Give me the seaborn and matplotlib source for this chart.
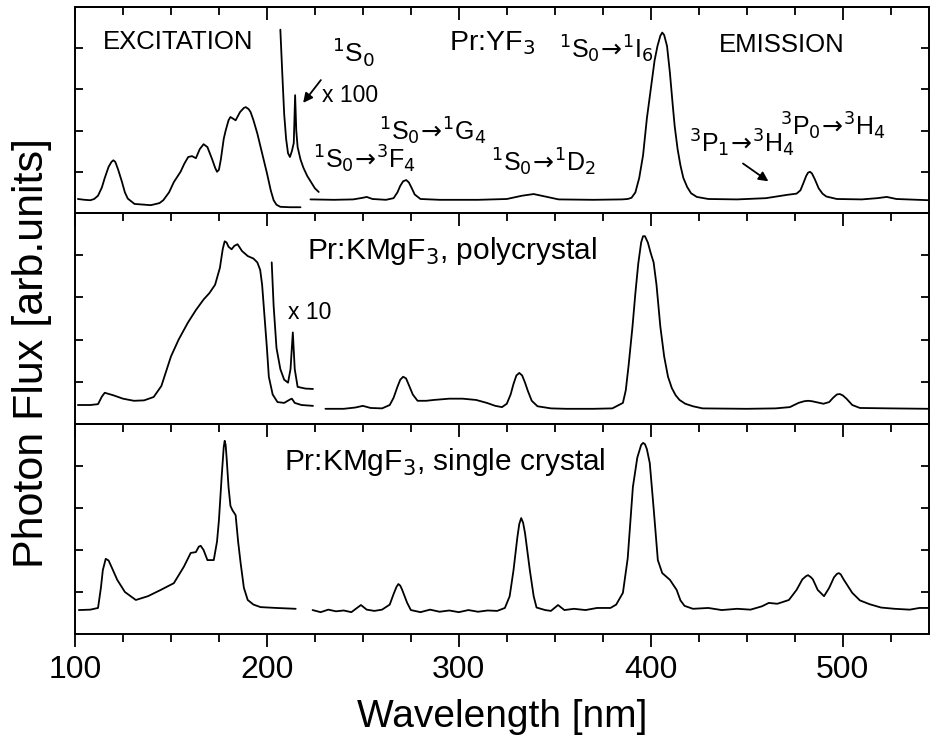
import matplotlib
matplotlib.use("Agg")
import matplotlib.pyplot as plt
import seaborn as sns
import numpy as np

# ---------------- data (wavelength nm, flux arb. units) ----------------
# Panel 1: Pr:YF3
yf3_exc_x = [101.5, 105, 108, 110, 112, 114, 115.5, 117.5, 119, 120, 121, 122.5, 124.5, 126, 127.5, 131,
             139.5, 144, 146, 149, 151.5, 155, 157, 159, 161, 163, 165, 167, 169, 171.5, 173, 174,
             175, 176, 177.5, 178.5, 180, 181, 183.7, 186, 188, 189, 190.5, 191.5, 193, 195, 197.5,
             200, 202, 203.5, 205, 207, 212, 217.5]
yf3_exc_y = [0.34, 0.32, 0.31, 0.34, 0.42, 0.62, 0.85, 1.12, 1.24, 1.28, 1.24, 1.05, 0.75, 0.5, 0.35,
             0.22, 0.19, 0.24, 0.31, 0.50, 0.75, 1.00, 1.20, 1.36, 1.38, 1.33, 1.55, 1.67, 1.60, 1.30,
             1.10, 1.00, 1.05, 1.30, 1.80, 2.00, 2.25, 2.33, 2.25, 2.45, 2.55, 2.57, 2.52, 2.45, 2.25,
             1.93, 1.45, 0.97, 0.55, 0.31, 0.20, 0.15, 0.14, 0.14]
yf3_x100_x = [207, 208, 209, 210, 211, 212, 213, 214, 214.7, 215.3, 216, 217.5, 219, 221, 223, 225, 227]
yf3_x100_y = [4.45, 3.4, 2.4, 1.8, 1.45, 1.36, 1.5, 1.7, 2.86, 2.0, 1.6, 1.3, 1.1, 0.9, 0.75, 0.6, 0.51]
yf3_em_x = [222.7, 235, 245, 250, 252, 255, 262, 266, 268, 269.5, 271, 272.6, 274, 275.5, 277, 280, 290,
            310, 325, 333, 339, 345, 352, 370, 385, 388, 390, 392, 394, 396, 398, 400, 402, 403.5,
            405, 406, 407, 408.5, 410, 411.5, 412.5, 414, 415.5, 417, 419, 421, 424, 430, 445, 460,
            471, 476, 478, 479.5, 481, 482, 483, 484, 485.5, 487.5, 489.5, 491.5, 497, 510, 518,
            523, 528, 545]
yf3_em_y = [0.33, 0.32, 0.33, 0.37, 0.39, 0.34, 0.32, 0.36, 0.50, 0.66, 0.77, 0.80, 0.74, 0.60, 0.45,
            0.34, 0.32, 0.32, 0.34, 0.42, 0.46, 0.40, 0.33, 0.32, 0.33, 0.34, 0.37, 0.50, 0.85, 1.40,
            2.30, 3.00, 3.70, 4.05, 4.30, 4.38, 4.32, 4.05, 3.40, 2.60, 2.10, 1.55, 1.15, 0.85, 0.63,
            0.48, 0.39, 0.34, 0.33, 0.36, 0.44, 0.47, 0.55, 0.72, 0.90, 0.98, 1.00, 0.96, 0.82, 0.60,
            0.47, 0.40, 0.34, 0.33, 0.36, 0.39, 0.34, 0.31]

# Panel 2: Pr:KMgF3 polycrystal
poly_exc_x = [101.5, 108, 112, 114, 115.5, 120, 125, 130.7, 136, 141, 145, 150, 154, 158.8, 163, 167,
              170, 173, 175.5, 177, 178, 179, 180, 181.6, 183, 184.7, 187, 190, 193, 195, 196.5, 197.5,
              198.5, 200, 201, 203, 205.5, 209, 212, 213, 214.5, 218, 224]
poly_exc_y = [0.45, 0.45, 0.47, 0.65, 0.74, 0.68, 0.60, 0.55, 0.56, 0.64, 0.90, 1.60, 2.00, 2.40, 2.70,
              2.95, 3.10, 3.30, 3.70, 4.15, 4.33, 4.30, 4.20, 4.14, 4.22, 4.26, 4.10, 3.98, 3.92, 3.83,
              3.65, 3.30, 2.70, 1.80, 1.12, 0.70, 0.52, 0.50, 0.58, 0.60, 0.50, 0.45, 0.43]
poly_x10_x = [202.5, 203.5, 205, 207, 209, 211, 212.3, 213.5, 214.5, 216, 220, 224]
poly_x10_y = [3.83, 2.8, 1.8, 1.3, 1.05, 0.98, 1.3, 2.17, 1.3, 0.88, 0.84, 0.83]
poly_em_x = [230.5, 240, 246, 250, 254, 260, 264, 266, 268, 269.5, 271, 272.5, 274, 276, 278.5, 283,
             287, 295, 302, 309, 314.6, 319, 322.5, 325, 327, 328.5, 330, 331.5, 333, 334.5, 336, 338,
             341, 348, 356, 370, 380, 385.5, 387, 388.5, 390.5, 392, 393.5, 395, 396, 397, 398.5, 400,
             401.5, 403, 405, 407, 409, 411, 413, 415, 418, 422, 427, 450, 465, 472.5, 477, 480, 482,
             484, 486, 490, 493, 495, 497, 498.5, 500, 502, 505, 509, 525, 545]
poly_em_y = [0.36, 0.36, 0.39, 0.43, 0.38, 0.37, 0.45, 0.62, 0.88, 1.05, 1.12, 1.08, 0.92, 0.70, 0.55,
             0.55, 0.57, 0.60, 0.60, 0.57, 0.50, 0.43, 0.40, 0.48, 0.70, 0.95, 1.15, 1.21, 1.15, 0.98,
             0.78, 0.55, 0.42, 0.37, 0.36, 0.36, 0.37, 0.50, 0.80, 1.40, 2.31, 3.10, 3.80, 4.30, 4.45,
             4.45, 4.30, 4.05, 3.83, 3.30, 2.31, 1.60, 1.12, 0.85, 0.68, 0.57, 0.48, 0.42, 0.37, 0.36,
             0.37, 0.40, 0.50, 0.54, 0.55, 0.54, 0.52, 0.48, 0.52, 0.62, 0.70, 0.71, 0.68, 0.60, 0.45,
             0.38, 0.37, 0.36]

# Panel 3: Pr:KMgF3 single crystal
sc_exc_x = [102, 108, 112, 113.5, 114.5, 116, 117.5, 119, 122, 126, 131.7, 138, 144.7, 151.5, 156.7,
            160.3, 163, 164.5, 165.5, 167, 169, 172.3, 174, 175, 176.5, 177.5, 178, 178.5, 179, 180,
            181, 182, 183.7, 185, 186.3, 188, 190, 193, 196.7, 205, 215]
sc_exc_y = [0.57, 0.58, 0.62, 1.10, 1.52, 1.79, 1.75, 1.60, 1.29, 1.00, 0.81, 0.90, 1.05, 1.21, 1.60,
            1.93, 1.95, 2.08, 2.10, 2.00, 1.76, 1.76, 2.20, 2.71, 3.80, 4.45, 4.60, 4.50, 4.20, 3.50,
            3.05, 2.95, 2.83, 2.20, 1.69, 1.10, 0.81, 0.70, 0.64, 0.62, 0.60]
sc_em_x = [223.8, 228, 232, 236, 240, 244, 249, 252, 256, 260, 264, 266, 267.5, 268.5, 269.5, 270.5, 273,
           275, 280, 285, 290, 295, 300, 305, 310, 315, 320, 324, 326.5, 328.5, 330.5, 331.5, 332.5,
           333.5, 334.5, 337, 339, 340.5, 345, 348, 351.7, 355, 360, 366, 372, 379, 382, 385.5, 388,
           390.7, 393, 395, 396, 397, 398, 399.5, 401.5, 403.7, 406, 410, 413.5, 415.5, 417.6, 422,
           430, 437, 445, 452, 458, 461.5, 466, 472, 476, 479, 481, 482, 483.5, 484.5, 487, 490.3,
           493, 495.5, 497, 498, 499, 500.5, 505, 509, 514, 520, 527, 535, 540, 545]
sc_em_y = [0.57, 0.52, 0.58, 0.54, 0.56, 0.52, 0.69, 0.58, 0.55, 0.58, 0.70, 0.95, 1.12, 1.19, 1.15,
           1.05, 0.75, 0.57, 0.52, 0.58, 0.53, 0.56, 0.52, 0.57, 0.53, 0.56, 0.55, 0.62, 0.90, 1.52,
           2.30, 2.62, 2.76, 2.65, 2.40, 1.52, 0.90, 0.63, 0.57, 0.55, 0.69, 0.57, 0.60, 0.57, 0.62,
           0.62, 0.70, 0.98, 1.80, 3.50, 4.20, 4.50, 4.55, 4.52, 4.40, 4.07, 3.00, 1.76, 1.45, 1.29,
           1.05, 0.80, 0.67, 0.60, 0.62, 0.57, 0.60, 0.58, 0.66, 0.74, 0.72, 0.81, 1.05, 1.30, 1.38,
           1.40, 1.35, 1.30, 1.05, 0.90, 1.10, 1.35, 1.43, 1.45, 1.42, 1.30, 0.98, 0.80, 0.71, 0.63,
           0.60, 0.58, 0.62, 0.62]

x_major = [100, 200, 300, 400, 500]
x_minor = [125, 150, 175, 225, 250, 275, 325, 350, 375, 425, 450, 475, 525]
y_ticks = [1, 2, 3, 4]

# ---------------- style ----------------
sns.set_theme(style="ticks")
plt.rcParams['font.family'] = ['Liberation Sans', 'DejaVu Sans']
plt.rcParams['mathtext.fontset'] = 'custom'
plt.rcParams['mathtext.rm'] = 'DejaVu Sans'
plt.rcParams['mathtext.it'] = 'DejaVu Sans:italic'
plt.rcParams['mathtext.bf'] = 'DejaVu Sans:bold'
plt.rcParams['axes.linewidth'] = 1.4
plt.rcParams['text.color'] = 'black'
plt.rcParams['axes.labelcolor'] = 'black'
plt.rcParams['xtick.color'] = 'black'
plt.rcParams['ytick.color'] = 'black'
plt.rcParams['axes.edgecolor'] = 'black'

W, H = 930, 735
fig = plt.figure(figsize=(W / 100, H / 100), dpi=100)
left_px, right_px = 75, 929
edges = [7, 213, 424, 634]
axes = []
for i in range(3):
    top, bot = edges[i], edges[i + 1]
    ax = fig.add_axes([left_px / W, 1 - bot / H, (right_px - left_px) / W, (bot - top) / H])
    axes.append(ax)

LW = 1.3
def draw(ax, xs, ys):
    sns.lineplot(x=xs, y=ys, ax=ax, color='black', lw=LW, sort=False, estimator=None)

draw(axes[0], yf3_exc_x, yf3_exc_y)
draw(axes[0], yf3_x100_x, yf3_x100_y)
draw(axes[0], yf3_em_x, yf3_em_y)
draw(axes[1], poly_exc_x, poly_exc_y)
draw(axes[1], poly_x10_x, poly_x10_y)
draw(axes[1], poly_em_x, poly_em_y)
draw(axes[2], sc_exc_x, sc_exc_y)
draw(axes[2], sc_em_x, sc_em_y)

for i, ax in enumerate(axes):
    ax.set_xlim(100, 545)
    ax.set_ylim(0, 5)
    ax.set_xlabel('')
    ax.set_ylabel('')
    for s in ax.spines.values():
        s.set_visible(True)
        s.set_color('black')
        s.set_linewidth(1.4)
    ax.set_yticks(y_ticks)
    ax.set_yticklabels([])
    ax.tick_params(axis='y', which='both', direction='in', left=True, right=True,
                   length=6, width=1.3, color='black')
    ax.set_xticks(x_major)
    ax.set_xticks(x_minor, minor=True)
    sec = ax.secondary_xaxis('top')
    sec.set_xticks(x_major)
    sec.set_xticks(x_minor, minor=True)
    sec.set_xticklabels([])
    sec.tick_params(axis='x', which='major', direction='in', length=9, width=1.3, color='black')
    sec.tick_params(axis='x', which='minor', direction='in', length=5.5, width=1.3, color='black')
    sec.spines['top'].set_linewidth(1.4)
    sec.spines['top'].set_color('black')
    if i < 2:
        ax.tick_params(axis='x', which='both', bottom=False, labelbottom=False)
    else:
        ax.tick_params(axis='x', which='major', direction='out', length=9, width=1.3,
                       color='black', labelsize=23, pad=6, labelcolor='black')
        ax.tick_params(axis='x', which='minor', direction='out', length=5.5, width=1.3, color='black')

axes[2].set_xlabel('Wavelength [nm]', fontsize=28, labelpad=10, color='black')
fig.text(32 / W, 1 - 353 / H, 'Photon Flux [arb.units]', rotation=90, fontsize=31,
         ha='center', va='center', color='black')

# ---------------- annotations ----------------
a1, a2, a3 = axes
TS = 18
ARR = r'$\!\rightarrow\!$'
def trans(a, b, c, d):
    return r'$^{%s}$%s$_{%s}$' % (a[0], a[1], a[2]) + ARR + r'$^{%s}$%s$_{%s}$' % (b, c, d)

a1.text(114.6, 4.15, 'EXCITATION', fontsize=18.5, ha='left', va='center')
a1.text(435.4, 4.08, 'EMISSION', fontsize=18.5, ha='left', va='center')
a1.text(295, 3.96, r'Pr:YF$_3$', fontsize=20.5, ha='left', va='baseline')
a1.text(234, 3.67, r'$^1$S$_0$', fontsize=TS + 1, ha='left', va='baseline')
a1.text(228.5, 2.70, 'x 100', fontsize=16.5, ha='left', va='baseline')
a1.annotate('', xy=(218, 2.62), xytext=(229, 3.28),
            arrowprops=dict(arrowstyle='-|>', color='black', lw=1.3, mutation_scale=14))
a1.text(223.8, 1.09, trans('1S0', '3', 'F', '4'), fontsize=TS, ha='left', va='baseline')
a1.text(258.6, 1.77, trans('1S0', '1', 'G', '4'), fontsize=TS, ha='left', va='baseline')
a1.text(317, 1.00, trans('1S0', '1', 'D', '2'), fontsize=TS, ha='left', va='baseline')
a1.text(352, 3.76, trans('1S0', '1', 'I', '6'), fontsize=TS, ha='left', va='baseline')
a1.text(419.8, 1.48, trans('3P1', '3', 'H', '4'), fontsize=TS, ha='left', va='baseline')
a1.text(467.5, 1.89, trans('3P0', '3', 'H', '4'), fontsize=TS, ha='left', va='baseline')
a1.annotate('', xy=(462.5, 0.73), xytext=(446.9, 1.24),
            arrowprops=dict(arrowstyle='-|>', color='black', lw=1.3, mutation_scale=14))

a2.text(221, 3.9, r'Pr:KMgF$_3$, polycrystal', fontsize=21.5, ha='left', va='baseline')
a2.text(210.8, 2.48, 'x 10', fontsize=16.5, ha='left', va='baseline')
a3.text(209, 3.9, r'Pr:KMgF$_3$, single crystal', fontsize=21.5, ha='left', va='baseline')

fig.savefig('out.png', dpi=100, facecolor='white')
